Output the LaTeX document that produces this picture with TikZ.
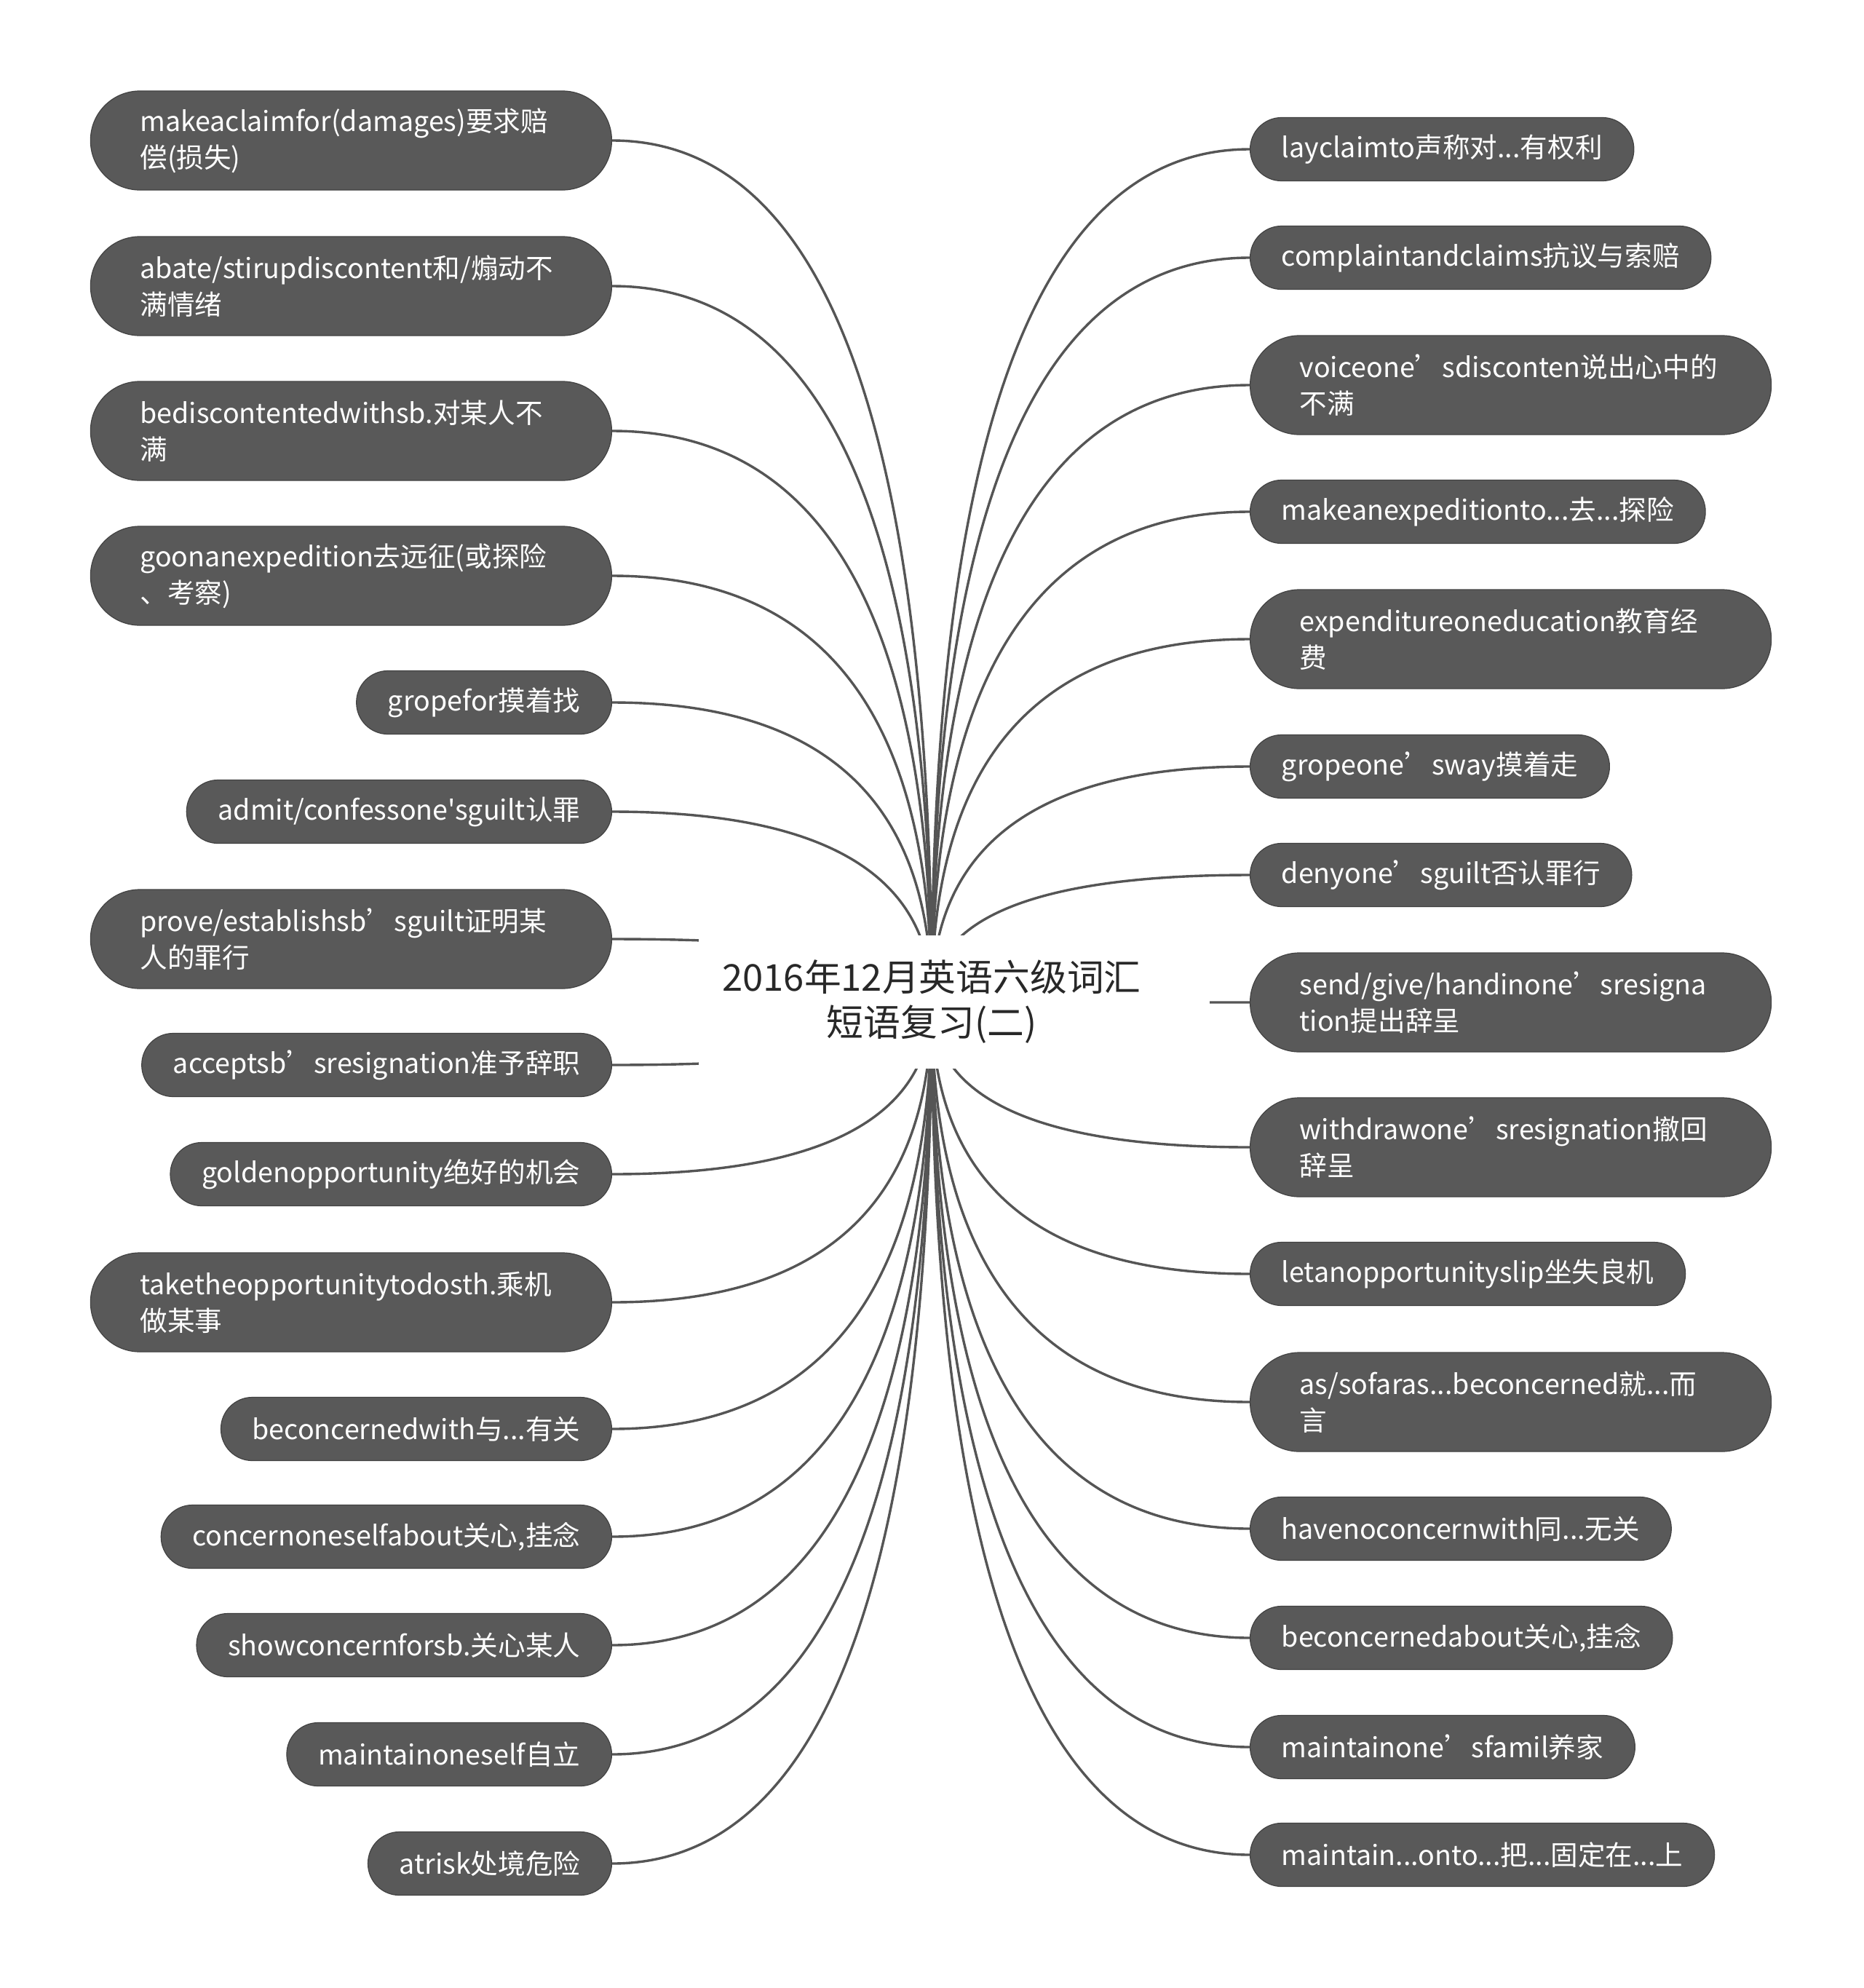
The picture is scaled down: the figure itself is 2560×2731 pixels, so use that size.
\documentclass[tikz,border=0pt]{standalone}
\usepackage{fontspec}
\newfontfamily\cjk{Noto Sans CJK SC}
\usetikzlibrary{calc,backgrounds}

\definecolor{leafgray}{RGB}{89,89,89}
\definecolor{leafedge}{RGB}{66,66,66}
\definecolor{linkgray}{RGB}{85,85,85}
\definecolor{titleink}{RGB}{40,40,40}

\tikzset{
  leaf/.style={rectangle, rounded corners=10.8pt, fill=leafgray, draw=leafedge, line width=0.3pt,
    text=white, font=\cjk\fontsize{9.4}{12.5}\selectfont, inner xsep=10.8pt, inner ysep=0pt,
    minimum height=21.75pt, align=left},
  leafwide/.style={leaf, rounded corners=16.9pt, text width=145pt, inner xsep=17pt,
    minimum width=179pt, minimum height=34pt},
  link/.style={draw=linkgray, line width=0.85pt},
  root/.style={fill=white, font=\cjk\fontsize{12.7}{15.7}\selectfont, text=titleink,
    align=center, minimum width=175.5pt, minimum height=45.75pt}
}

\begin{document}
\begin{tikzpicture}[x=0.25pt, y=-0.25pt]
  \useasboundingbox (0,0) rectangle (2560,2731);

  \coordinate (hub) at (1280,1376);
  \node[root] (root) at (1311,1376) {2016年12月英语六级词汇\hspace*{15.5pt}\\短语复习(二)\hspace*{15.5pt}};

  % left branch
  \node[leafwide, anchor=east] (claim) at (841,193) {makeaclaimfor(damages)要求赔\\偿(损失)};
  \node[leafwide, anchor=east] (abate) at (841,393) {abate/stirupdiscontent和/煽动不\\满情绪};
  \node[leafwide, anchor=east] (discont) at (841,592) {bediscontentedwithsb.对某人不\\满};
  \node[leafwide, anchor=east] (goexp) at (841,791) {goonanexpedition去远征(或探险\\、考察)};
  \node[leaf, anchor=east] (gropefor) at (841,965) {gropefor摸着找};
  \node[leaf, anchor=east] (admit) at (841,1115) {admit/confessone'sguilt认罪};
  \node[leafwide, anchor=east] (proveguilt) at (841,1290) {prove/establishsb’sguilt证明某\\人的罪行};
  \node[leaf, anchor=east] (accept) at (841,1463) {acceptsb’sresignation准予辞职};
  \node[leaf, anchor=east] (golden) at (841,1613) {goldenopportunity绝好的机会};
  \node[leafwide, anchor=east] (takeopp) at (841,1789) {taketheopportunitytodosth.乘机\\做某事};
  \node[leaf, anchor=east] (concwith) at (841,1963) {beconcernedwith与...有关};
  \node[leaf, anchor=east] (concself) at (841,2111) {concernoneselfabout关心,挂念};
  \node[leaf, anchor=east] (showconc) at (841,2260) {showconcernforsb.关心某人};
  \node[leaf, anchor=east] (maintself) at (841,2410) {maintainoneself自立};
  \node[leaf, anchor=east] (atrisk) at (841,2560) {atrisk处境危险};

  % right branch
  \node[leaf, anchor=west] (layclaim) at (1717,205) {layclaimto声称对...有权利};
  \node[leaf, anchor=west] (complaint) at (1717,354) {complaintandclaims抗议与索赔};
  \node[leafwide, anchor=west] (voice) at (1717,529) {voiceone’sdisconten说出心中的\\不满};
  \node[leaf, anchor=west] (makeexp) at (1717,703) {makeanexpeditionto...去...探险};
  \node[leafwide, anchor=west] (expend) at (1717,878) {expenditureoneducation教育经\\费};
  \node[leaf, anchor=west] (gropeway) at (1717,1053) {gropeone’sway摸着走};
  \node[leaf, anchor=west] (deny) at (1717,1202) {denyone’sguilt否认罪行};
  \node[leafwide, anchor=west] (sendres) at (1717,1377) {send/give/handinone’sresigna\\tion提出辞呈};
  \node[leafwide, anchor=west] (withdraw) at (1717,1576) {withdrawone’sresignation撤回\\辞呈};
  \node[leaf, anchor=west] (letopp) at (1717,1750) {letanopportunityslip坐失良机};
  \node[leafwide, anchor=west] (asfar) at (1717,1926) {as/sofaras...beconcerned就...而\\言};
  \node[leaf, anchor=west] (noconc) at (1717,2100) {havenoconcernwith同...无关};
  \node[leaf, anchor=west] (concabout) at (1717,2250) {beconcernedabout关心,挂念};
  \node[leaf, anchor=west] (maintfam) at (1717,2400) {maintainone’sfamil养家};
  \node[leaf, anchor=west] (maintonto) at (1717,2548) {maintain...onto...把...固定在...上};

  \begin{pgfonlayer}{background}
    \foreach \n in {claim,abate,discont,goexp,gropefor,admit,proveguilt,accept,golden,
                    takeopp,concwith,concself,showconc,maintself,atrisk}
      \draw[link] (hub) .. controls ($(hub)!2/3!(hub|-\n.east)$)
        and ($(\n.east)!2/3!(hub|-\n.east)$) .. (\n.east);
    \foreach \n in {layclaim,complaint,voice,makeexp,expend,gropeway,deny,sendres,withdraw,
                    letopp,asfar,noconc,concabout,maintfam,maintonto}
      \draw[link] (hub) .. controls ($(hub)!2/3!(hub|-\n.west)$)
        and ($(\n.west)!2/3!(hub|-\n.west)$) .. (\n.west);
  \end{pgfonlayer}
\end{tikzpicture}
\end{document}
